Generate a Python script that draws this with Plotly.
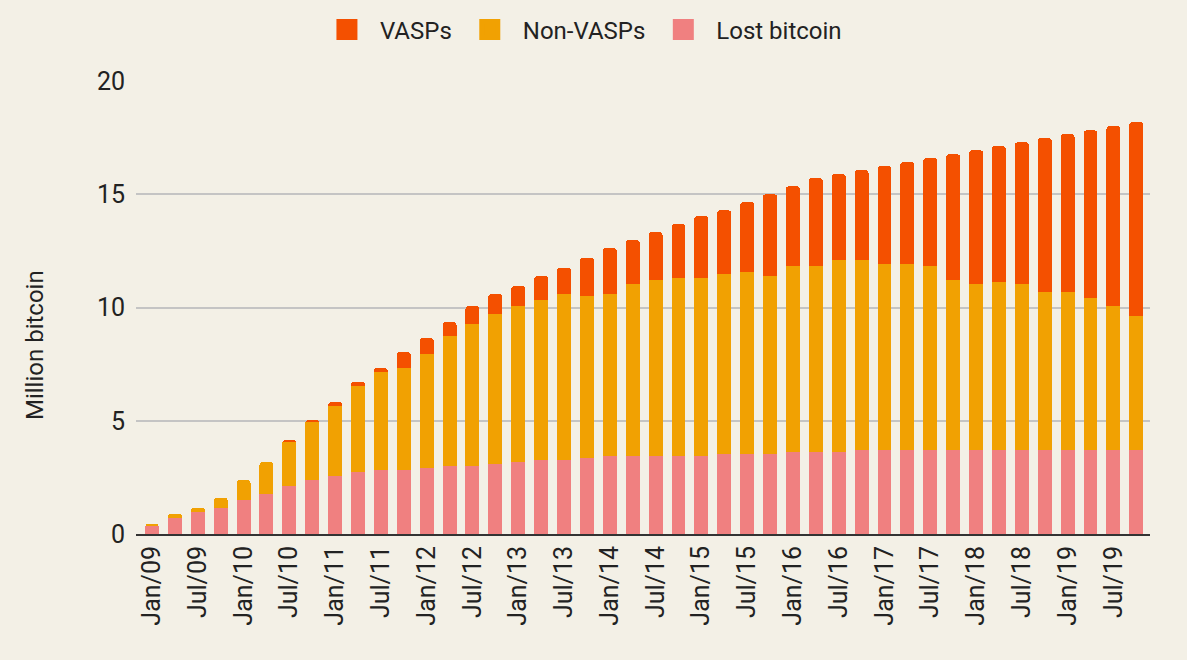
import plotly.graph_objects as go

years = ["09", "10", "11", "12", "13", "14", "15", "16", "17", "18", "19"]
months = ["Jan", "Apr", "Jul", "Oct"]
categories = [f"{m}/{y}" for y in years for m in months]

lost_bitcoin = [0.38, 0.71, 0.97, 1.15, 1.50, 1.76, 2.12, 2.38, 2.56, 2.74, 2.82, 2.82,
                2.91, 3.00, 3.00, 3.09, 3.18, 3.26, 3.26, 3.35, 3.44, 3.44, 3.44, 3.44,
                3.44, 3.53, 3.53, 3.53, 3.62, 3.62, 3.62, 3.71, 3.71, 3.71, 3.71, 3.71,
                3.71, 3.71, 3.71, 3.71, 3.71, 3.71, 3.71, 3.71]
non_vasps = [0.06, 0.17, 0.18, 0.44, 0.88, 1.42, 1.94, 2.56, 3.09, 3.79, 4.33, 4.50,
             5.03, 5.74, 6.26, 6.62, 6.88, 7.06, 7.33, 7.15, 7.15, 7.59, 7.77, 7.85,
             7.85, 7.94, 8.03, 7.85, 8.20, 8.20, 8.47, 8.38, 8.20, 8.20, 8.11, 7.50,
             7.32, 7.41, 7.32, 6.97, 6.97, 6.70, 6.35, 5.91]
vasps = [0, 0, 0, 0, 0, 0, 0.09, 0.09, 0.17, 0.18, 0.17, 0.71,
         0.71, 0.61, 0.80, 0.88, 0.88, 1.06, 1.15, 1.68, 2.03, 1.94, 2.11, 2.39,
         2.74, 2.82, 3.09, 3.62, 3.53, 3.89, 3.79, 3.97, 4.33, 4.50, 4.77, 5.55,
         5.91, 6.00, 6.26, 6.79, 6.97, 7.41, 7.94, 8.56]

tick_labels = categories[::2]

series_names = ["Lost bitcoin", "Non-VASPs", "VASPs"]
series_colors = ["#F08080", "#F1A102", "#F45000"]
series_values = [lost_bitcoin, non_vasps, vasps]

BG = "#F3F0E6"
TXT = "#222222"
FONT = "Roboto"

fig = go.Figure()
for name, color, vals in zip(series_names, series_colors, series_values):
    fig.add_trace(go.Bar(name=name, x=categories, y=vals, showlegend=False,
                         marker=dict(color=color, line=dict(width=0))))

# legend entries (larger square swatches), top series first
for name, color in zip(series_names[::-1], series_colors[::-1]):
    fig.add_trace(go.Scatter(name=name, x=[categories[0]], y=[None], mode="markers",
                             showlegend=True,
                             marker=dict(symbol="square", size=16, color=color,
                                         line=dict(color=color, width=5))))

fig.update_layout(
    width=1187, height=660,
    barmode="stack", bargap=0.39, barcornerradius=3,
    paper_bgcolor=BG, plot_bgcolor=BG,
    font=dict(family=FONT, size=24, color=TXT),
    margin=dict(l=136, r=37, t=81, b=126),
    showlegend=True,
    legend=dict(orientation="h", traceorder="normal", itemsizing="trace",
                itemwidth=56,
                xref="container", x=0.489, xanchor="center",
                yref="container", y=1 - 30 / 660, yanchor="middle",
                font=dict(family=FONT, size=24, color=TXT),
                bgcolor="rgba(0,0,0,0)"),
    hovermode=False,
)
fig.update_xaxes(
    type="category", range=[-0.7, 43.6],
    tickmode="array", tickvals=tick_labels, ticktext=tick_labels,
    tickangle=-90, ticks="", showgrid=False,
    showline=True, linecolor="#333333", linewidth=2,
    tickfont=dict(family=FONT, size=25, color=TXT),
)
fig.update_yaxes(
    range=[0, 20], tickvals=[0, 5, 10, 15, 20], ticks="",
    showgrid=True, gridcolor="#C4C4C4", gridwidth=1.5,
    zeroline=False, showline=False, ticklabelstandoff=10,
    tickfont=dict(family=FONT, size=25, color=TXT),
)
fig.add_annotation(text="Million bitcoin", textangle=-90,
                   xref="paper", yref="paper",
                   x=(35 - 136) / (1187 - 136 - 37), y=(534 - 345) / (534 - 81),
                   xanchor="center", yanchor="middle", showarrow=False,
                   font=dict(family=FONT, size=24, color=TXT))

fig.write_html("out.html")
